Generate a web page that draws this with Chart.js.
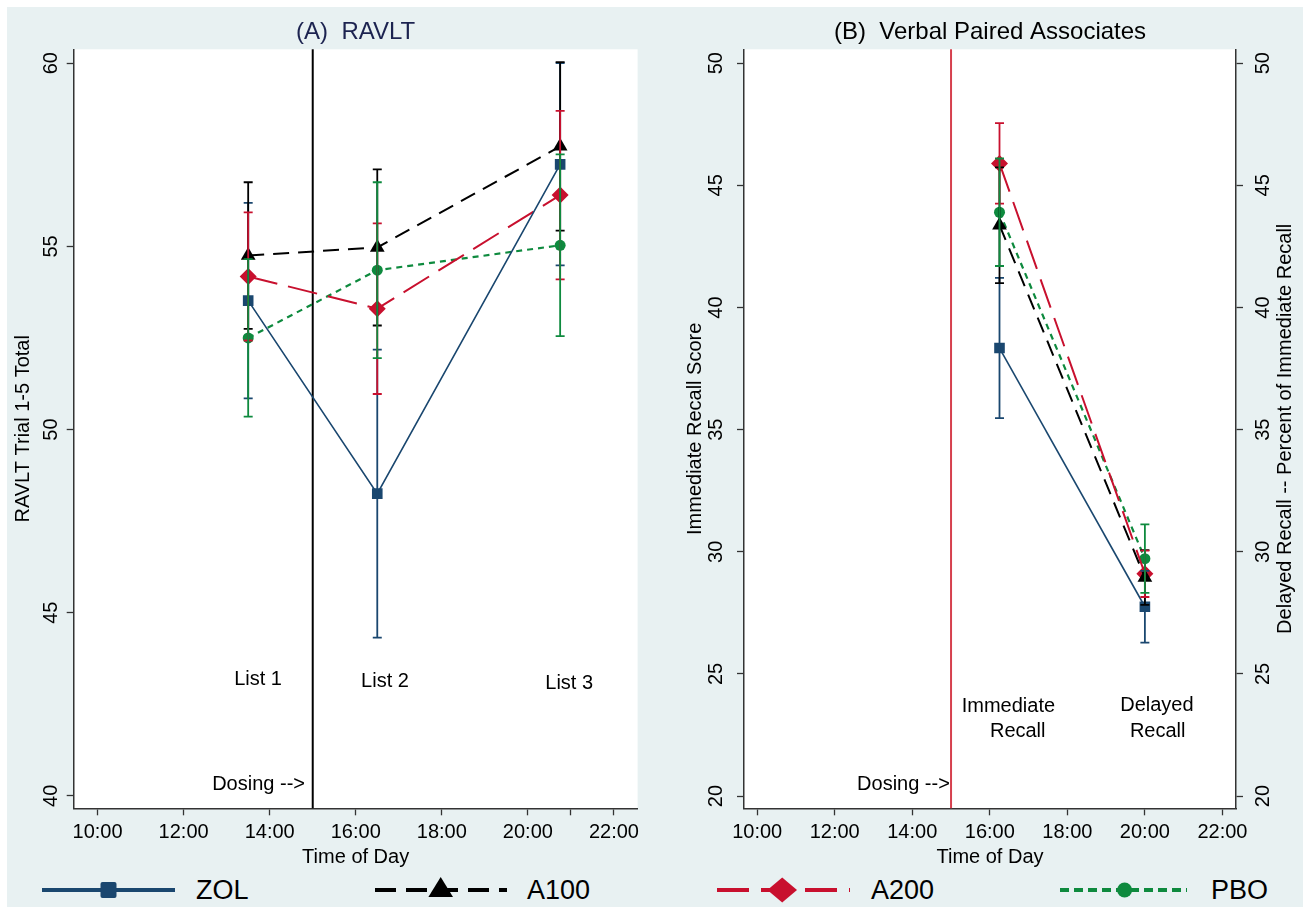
<!DOCTYPE html>
<html>
<head>
<meta charset="utf-8">
<script src="https://cdn.jsdelivr.net/npm/chart.js@4.4.1/dist/chart.umd.min.js"></script>
<style>
  html, body { margin: 0; padding: 0; background: #fff; }
  #fig { position: absolute; left: 7px; top: 7px; width: 1296px; height: 900px; background: #e8f1f2; }
  canvas { position: absolute; top: 0; }
  #ravlt { left: 0; }
  #vpa { left: 660px; }
  #legend { position: absolute; left: 0; top: 870px; width: 1303px; height: 37px; }
  #legend span { position: absolute; top: 5px; font: 27px 'Liberation Sans', Arial, sans-serif; line-height: 30px; color: #000; }
</style>
</head>
<body>
<div id="fig"></div>
<canvas id="ravlt" width="660" height="870"></canvas>
<canvas id="vpa" width="643" height="870"></canvas>
<div id="legend">
  <svg width="1303" height="37" style="position:absolute;left:0;top:0">
    <line x1="42" y1="20" x2="175" y2="20" stroke="#1a476f" stroke-width="4"/>
    <rect x="100.5" y="12" width="16" height="16" rx="2" fill="#1a476f"/>
    <line x1="375" y1="20" x2="507" y2="20" stroke="#000" stroke-width="4" stroke-dasharray="21 10"/>
    <polygon points="440.7,7 453,27 428.4,27" fill="#000"/>
    <line x1="717" y1="20" x2="850" y2="20" stroke="#c8102e" stroke-width="4" stroke-dasharray="32 12"/>
    <polygon points="782.2,7.5 797,20 782.2,32.5 767.4,20" fill="#c8102e"/>
    <line x1="1060" y1="20" x2="1187" y2="20" stroke="#0e8a3e" stroke-width="4" stroke-dasharray="9 5"/>
    <circle cx="1124.6" cy="20" r="7.5" fill="#0e8a3e"/>
  </svg>
  <span style="left:196px">ZOL</span>
  <span style="left:527px">A100</span>
  <span style="left:871px">A200</span>
  <span style="left:1211px">PBO</span>
</div>
<script>
// ---- data: (A) RAVLT ----
const ravltTimes = [13.5, 16.5, 20.75];
const ravltZOL = [53.52, 48.25, 57.24];
const ravltZOLErr = [2.67, 3.93, 2.76];
const ravltA100 = [54.75, 54.97, 57.73];
const ravltA100Err = [2.0, 2.13, 2.3];
const ravltA200 = [54.18, 53.3, 56.4];
const ravltA200Err = [1.75, 2.33, 2.3];
const ravltPBO = [52.5, 54.35, 55.03];
const ravltPBOErr = [2.15, 2.4, 2.48];
const ravltXTicks = [10, 12, 14, 16, 18, 20, 21, 22];
const ravltXLabels = ['10:00', '12:00', '14:00', '16:00', '18:00', '20:00', '', '22:00'];
const ravltYTicks = [40, 45, 50, 55, 60];

// ---- data: (B) Verbal Paired Associates ----
const vpaTimes = [16.25, 20.0];
const vpaZOL = [38.34, 27.75];
const vpaZOLErr = [2.87, 1.47];
const vpaA100 = [43.37, 28.95];
const vpaA100Err = [2.37, 1.12];
const vpaA200 = [45.9, 29.1];
const vpaA200Err = [1.65, 0.95];
const vpaPBO = [43.9, 29.72];
const vpaPBOErr = [2.2, 1.4];
const vpaXTicks = [10, 12, 14, 16, 18, 20, 22];
const vpaXLabels = ['10:00', '12:00', '14:00', '16:00', '18:00', '20:00', '22:00'];
const vpaYTicks = [20, 25, 30, 35, 40, 45, 50];

const dosingTime = 15;
const FONT = "'Liberation Sans', Arial, sans-serif";

const styles = {
  ZOL: { color: '#1a476f', dash: [], width: 1.6, point: 'rect', radius: 7.5 },
  A100: { color: '#000000', dash: [16, 9], width: 2, point: 'triangle', radius: 8.5 },
  A200: { color: '#c8102e', dash: [30, 11], width: 2, point: 'rectRot', radius: 8.5 },
  PBO: { color: '#0e8a3e', dash: [6, 5], width: 2.2, point: 'circle', radius: 5.5 }
};

function series(name, times, vals, errs) {
  const s = styles[name];
  return {
    label: name,
    data: times.map((t, i) => ({ x: t, y: vals[i] })),
    errs: errs,
    borderColor: s.color,
    backgroundColor: s.color,
    borderWidth: s.width,
    borderDash: s.dash,
    pointStyle: s.point,
    pointRadius: s.radius,
    pointBorderWidth: 0,
    showLine: true,
    fill: false,
    tension: 0
  };
}

const errorBars = {
  id: 'errorBars',
  afterDatasetsDraw(chart) {
    const { ctx, scales: { x, y } } = chart;
    chart.data.datasets.forEach(ds => {
      ctx.save();
      ctx.strokeStyle = ds.borderColor;
      ctx.lineWidth = 1.8;
      ctx.setLineDash([]);
      ds.data.forEach((p, j) => {
        const px = x.getPixelForValue(p.x);
        const y1 = y.getPixelForValue(p.y + ds.errs[j]);
        const y2 = y.getPixelForValue(p.y - ds.errs[j]);
        ctx.beginPath();
        ctx.moveTo(px, y1); ctx.lineTo(px, y2);
        ctx.moveTo(px - 4.5, y1); ctx.lineTo(px + 4.5, y1);
        ctx.moveTo(px - 4.5, y2); ctx.lineTo(px + 4.5, y2);
        ctx.stroke();
      });
      ctx.restore();
    });
  }
};

function decor(cfg) {
  return {
    id: 'decor',
    beforeDraw(chart) {
      const { ctx, chartArea: a } = chart;
      ctx.save();
      ctx.fillStyle = '#fff';
      ctx.fillRect(a.left, a.top, a.right - a.left, a.bottom - a.top);
      ctx.restore();
    },
    beforeDatasetsDraw(chart) {
      const { ctx, chartArea: a, scales: { x } } = chart;
      const px = x.getPixelForValue(dosingTime);
      ctx.save();
      ctx.strokeStyle = cfg.dosingColor;
      ctx.lineWidth = 2;
      ctx.beginPath(); ctx.moveTo(px, a.top); ctx.lineTo(px, a.bottom); ctx.stroke();
      ctx.restore();
    },
    afterDraw(chart) {
      const { ctx, chartArea: a, scales: { x, y } } = chart;
      ctx.save();
      ctx.fillStyle = cfg.titleColor;
      ctx.font = '24px ' + FONT;
      ctx.textAlign = 'center';
      ctx.textBaseline = 'middle';
      ctx.fillText(cfg.title, (a.left + a.right) / 2, 32);
      ctx.fillStyle = '#000';
      ctx.font = '20px ' + FONT;
      cfg.notes.forEach(n => {
        ctx.textAlign = n.align;
        ctx.fillText(n.text, x.getPixelForValue(n.x), y.getPixelForValue(n.y));
      });
      if (cfg.rightTitle) {
        ctx.translate(625, (a.top + a.bottom) / 2);
        ctx.rotate(-Math.PI / 2);
        ctx.textAlign = 'center';
        ctx.fillText(cfg.rightTitle, 0, 0);
      }
      ctx.restore();
    }
  };
}

const axisColor = '#333';
function xScale(min, max, ticks, labels) {
  return {
    type: 'linear', min: min, max: max,
    afterBuildTicks: s => { s.ticks = ticks.map(v => ({ value: v })); },
    afterFit: s => { s.height = 61.7; },
    ticks: { callback: (v, i) => labels[i], autoSkip: false, maxRotation: 0, color: '#000', font: { family: FONT, size: 20 }, padding: 5 },
    grid: { drawOnChartArea: false, tickLength: 7, color: axisColor, tickWidth: 1.3 },
    border: { color: axisColor, width: 1.5 },
    title: { display: true, text: 'Time of Day', color: '#000', font: { family: FONT, size: 20 }, padding: { top: 0, bottom: 1 } }
  };
}
function yScale(min, max, ticks, pos, width, pad, title, titlePad) {
  return {
    type: 'linear', position: pos, min: min, max: max,
    afterBuildTicks: s => { s.ticks = ticks.map(v => ({ value: v })); },
    afterFit: s => { s.width = width; },
    ticks: { minRotation: 90, maxRotation: 90, crossAlign: 'center', color: '#000', font: { family: FONT, size: 20 }, padding: pad },
    grid: { drawOnChartArea: false, tickLength: 7, color: axisColor, tickWidth: 1.3 },
    border: { color: axisColor, width: 1.5 },
    title: { display: !!title, text: title || '', color: '#000', font: { family: FONT, size: 20 }, padding: { top: titlePad, bottom: 0 } }
  };
}

const common = {
  responsive: false,
  animation: false,
  devicePixelRatio: 1,
  plugins: { legend: { display: false }, tooltip: { enabled: false } }
};

new Chart(document.getElementById('ravlt'), {
  type: 'line',
  data: {
    datasets: [
      series('ZOL', ravltTimes, ravltZOL, ravltZOLErr),
      series('A100', ravltTimes, ravltA100, ravltA100Err),
      series('A200', ravltTimes, ravltA200, ravltA200Err),
      series('PBO', ravltTimes, ravltPBO, ravltPBOErr)
    ]
  },
  options: Object.assign({}, common, {
    layout: { padding: { left: 10, top: 49.3, right: 22.4, bottom: 0 } },
    scales: {
      x: xScale(9.445, 22.55, ravltXTicks, ravltXLabels),
      y: yScale(39.66, 60.38, ravltYTicks, 'left', 63.7, 4, 'RAVLT Trial 1-5 Total', 1)
    }
  }),
  plugins: [errorBars, decor({
    title: '(A)  RAVLT', titleColor: '#1c2350', dosingColor: '#000',
    notes: [
      { text: 'List 1', x: 13.73, y: 43.18, align: 'center' },
      { text: 'List 2', x: 16.68, y: 43.12, align: 'center' },
      { text: 'List 3', x: 20.96, y: 43.07, align: 'center' },
      { text: 'Dosing -->', x: 14.82, y: 40.31, align: 'right' }
    ]
  })]
});

new Chart(document.getElementById('vpa'), {
  type: 'line',
  data: {
    datasets: [
      series('ZOL', vpaTimes, vpaZOL, vpaZOLErr),
      series('A100', vpaTimes, vpaA100, vpaA100Err),
      series('A200', vpaTimes, vpaA200, vpaA200Err),
      series('PBO', vpaTimes, vpaPBO, vpaPBOErr)
    ]
  },
  options: Object.assign({}, common, {
    layout: { padding: { left: 10, top: 49.3, right: 5, bottom: 0 } },
    scales: {
      x: xScale(9.66, 22.35, vpaXTicks, vpaXLabels),
      y: yScale(19.5, 50.57, vpaYTicks, 'left', 74, 9, 'Immediate Recall Score', 13),
      y2: yScale(19.5, 50.57, vpaYTicks, 'right', 62, 9, '', 0)
    }
  }),
  plugins: [errorBars, decor({
    title: '(B)  Verbal Paired Associates', titleColor: '#000', dosingColor: '#d6404e',
    rightTitle: 'Delayed Recall -- Percent of Immediate Recall',
    notes: [
      { text: 'Immediate', x: 16.48, y: 23.66, align: 'center' },
      { text: 'Recall', x: 16.72, y: 22.64, align: 'center' },
      { text: 'Delayed', x: 20.31, y: 23.70, align: 'center' },
      { text: 'Recall', x: 20.33, y: 22.64, align: 'center' },
      { text: 'Dosing -->', x: 14.97, y: 20.48, align: 'right' }
    ]
  })]
});
</script>
</body>
</html>
